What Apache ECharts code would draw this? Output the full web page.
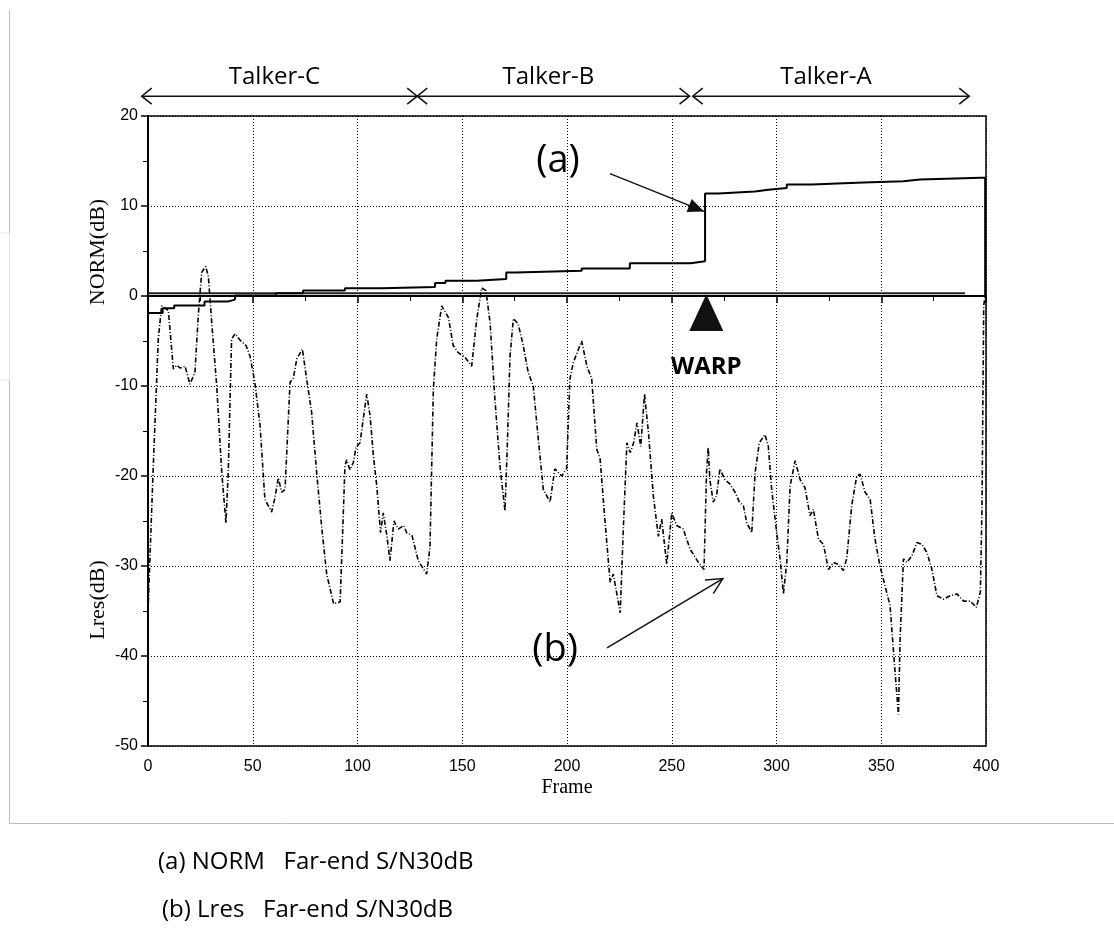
<!DOCTYPE html>
<html><head><meta charset="utf-8">
<script src="https://cdn.jsdelivr.net/npm/echarts@6/dist/echarts.min.js"></script>
<style>html,body{margin:0;padding:0;background:#fff}#c{width:1114px;height:932px}</style>
</head><body><div id="c"></div>
<script>
// ---- data ----
const normFrames = [0, 7, 12.5, 27, 38.5, 41.5, 61, 74, 94, 111.5, 137, 142, 157, 171, 175.5, 207, 230, 259, 265.9, 272.2, 289.7, 296.1, 304.9, 316.8, 341.5, 360.5, 368.5, 397.6, 399.6];
const normValues = [-1.9, -1.35, -1.05, -0.6, -0.4, 0.05, 0.3, 0.6, 0.85, 1.0, 1.45, 1.7, 1.9, 2.6, 2.8, 3.05, 3.65, 3.85, 11.4, 11.6, 11.8, 12.0, 12.4, 12.6, 12.75, 12.95, 13.15, 13.15, 0];
const refFrames = [0, 390];
const refValues = [0.3, 0.3];
const lresFrames = [0, 2.4, 4.9, 6.5, 7.3, 9.7, 12.1, 13.7, 15.3, 17.7, 20, 22.4, 24, 25.6, 27.5, 28.8, 30.4, 32.8, 35.2, 37.2, 38.3, 39.9, 41.5, 43.9, 46.8, 48.7, 51, 53.5, 55.8, 59, 60.6, 62.2, 63.8, 65.4, 67.8, 69.4, 71, 73.7, 75.7, 78.1, 80.5, 83, 85.3, 88.6, 91.7, 92.8, 94, 94.8, 96.4, 98, 99.3, 101.2, 104.4, 106, 107.6, 109.2, 111, 112.3, 114, 115.5, 117.4, 119.5, 122, 123.5, 126, 129, 133, 134.6, 136.2, 137.8, 140.2, 143.4, 145.7, 148.1, 151.3, 154.5, 156.9, 159.3, 161.3, 163.3, 165.6, 168, 170.4, 171.5, 172.8, 174.4, 176.7, 179.1, 181.5, 183.9, 186.3, 188.7, 191.9, 194.2, 197.5, 199.8, 201.4, 203, 207, 209.5, 211.8, 214.2, 215.8, 218.2, 220.6, 222.1, 225.4, 227, 228.6, 230.2, 231.8, 233.4, 235.2, 237, 238.9, 241.2, 243.6, 245.2, 247.6, 250, 252.4, 255.5, 258.7, 262.7, 265.4, 266.6, 267.4, 268.2, 269.8, 271.4, 273, 275.4, 277.8, 280.2, 282.3, 284.2, 285.8, 288.2, 289.8, 291.8, 294.5, 296.1, 297.7, 300.1, 301.7, 303.3, 304.9, 306.5, 308.9, 311.3, 313.6, 316, 317.6, 320, 322.4, 324.8, 327.2, 329.5, 331.9, 333.5, 335.9, 338.3, 339.9, 342.3, 344.7, 347, 349.4, 351.8, 354.2, 356.6, 358.2, 359, 360.6, 362.2, 364.6, 367, 369.4, 371.8, 374.2, 376.6, 379.7, 382.9, 386.1, 389.3, 392.5, 395.4, 397.3, 398.1, 398.9, 399.7];
const lresValues = [-35.2, -19.6, -4.8, -1.1, -0.9, -1.6, -8.1, -7.7, -8.0, -7.8, -9.8, -8.5, -2.2, 2.6, 3.3, 2.2, -2.9, -10.0, -19.6, -25.2, -19.6, -4.8, -4.2, -4.9, -5.5, -6.7, -9.6, -14.4, -22.6, -24.0, -22.4, -20.2, -21.8, -21.5, -9.6, -9.1, -7.0, -5.9, -9.2, -12.9, -19.6, -25.9, -30.9, -34.2, -34.0, -27.0, -18.9, -18.2, -19.3, -18.5, -16.8, -16.3, -10.9, -13.3, -17.8, -21.1, -26.3, -24.1, -26.6, -29.4, -25.0, -25.9, -25.5, -26.3, -26.6, -29.4, -30.9, -27.9, -10.4, -4.8, -1.1, -2.4, -5.5, -6.3, -6.8, -7.8, -2.6, 0.9, 0.6, -3.0, -11.5, -18.9, -23.9, -16.7, -6.7, -2.5, -3.1, -5.5, -8.5, -10.0, -15.9, -21.5, -22.9, -19.2, -20.0, -19.2, -9.2, -7.4, -5.0, -7.8, -9.2, -17.0, -18.1, -25.2, -31.8, -30.9, -35.2, -25.2, -16.3, -17.4, -16.3, -14.1, -16.7, -10.9, -15.2, -22.2, -26.7, -24.8, -29.8, -24.1, -25.5, -25.9, -28.1, -29.6, -30.4, -19.6, -16.8, -20.4, -22.9, -22.2, -19.2, -20.4, -20.9, -21.8, -22.9, -23.3, -25.2, -26.3, -19.6, -16.3, -15.4, -16.7, -21.5, -26.3, -29.2, -33.1, -29.6, -21.1, -18.3, -20.4, -21.3, -24.4, -23.7, -27.0, -27.6, -30.4, -29.6, -29.8, -30.5, -29.2, -23.3, -20.0, -19.8, -21.8, -22.6, -27.0, -30.0, -32.2, -34.4, -41.8, -46.5, -38.1, -29.2, -29.6, -28.9, -27.4, -27.6, -28.5, -30.4, -33.3, -33.7, -33.3, -33.1, -33.9, -33.9, -34.6, -32.9, -23.3, -1.1, 0.2];
const talkerNames = ['Talker-C', 'Talker-B', 'Talker-A'];
const talkerStart = [-3, 128.5, 260];
const talkerEnd = [128.5, 258.5, 392];
const warpFrame = 266.5;
const captions = ['(a) NORM   Far-end S/N30dB', '(b) Lres   Far-end S/N30dB'];
const yTitles = ['NORM(dB)', 'Lres(dB)'];
const xTitle = 'Frame';

const zip = (a, b) => a.map((v, i) => [v, b[i]]);

const chart = echarts.init(document.getElementById('c'), null, { renderer: 'canvas' });
const tickFont = 'Liberation Sans';
chart.setOption({
  animation: false,
  backgroundColor: '#fff',
  grid: { left: 148, right: 128, top: 116, bottom: 186, show: true, borderColor: '#000', borderWidth: 1.5, backgroundColor: 'transparent' },
  xAxis: {
    type: 'value', min: 0, max: 400, interval: 50,
    axisLine: { show: true, lineStyle: { color: '#000', width: 2 } },
    axisTick: { show: true, length: 7, lineStyle: { color: '#000', width: 1.5 } },
    minorTick: { show: true, splitNumber: 2, length: 5, lineStyle: { color: '#000', width: 1 } },
    axisLabel: { color: '#000', fontSize: 16, fontFamily: tickFont, margin: 13 },
    splitLine: { show: true, lineStyle: { color: '#000', type: [1, 2], width: 1 } }
  },
  yAxis: {
    type: 'value', min: -50, max: 20, interval: 10,
    axisLine: { show: true, onZero: false, lineStyle: { color: '#000', width: 2 } },
    axisTick: { show: true, length: 7, lineStyle: { color: '#000', width: 1.5 } },
    minorTick: { show: true, splitNumber: 2, length: 5, lineStyle: { color: '#000', width: 1 } },
    axisLabel: { color: '#000', fontSize: 16, fontFamily: tickFont, margin: 10 },
    splitLine: { show: true, lineStyle: { color: '#000', type: [1, 2], width: 1 } }
  },
  series: [
    { type: 'line', data: zip(refFrames, refValues), symbol: 'none', lineStyle: { color: '#222', width: 2 }, z: 3 },
    { type: 'line', data: zip(normFrames, normValues), step: 'end', symbol: 'none', lineStyle: { color: '#000', width: 2 }, z: 4 },
    { type: 'line', data: zip(lresFrames, lresValues), symbol: 'none', lineStyle: { color: '#000', width: 1.6, type: [5, 2, 1, 2] }, z: 5 }
  ]
});

const P = (x, y) => chart.convertToPixel({ gridIndex: 0 }, [x, y]);
function head(tip, from, len, half, filled) {
  const dx = tip[0] - from[0], dy = tip[1] - from[1];
  const L = Math.hypot(dx, dy), ux = dx / L, uy = dy / L;
  const bx = tip[0] - ux * len, by = tip[1] - uy * len;
  const p1 = [bx - uy * half, by + ux * half], p2 = [bx + uy * half, by - ux * half];
  return filled
    ? { type: 'polygon', shape: { points: [tip, p1, p2] }, style: { fill: '#111' }, z: 20 }
    : { type: 'polyline', shape: { points: [p1, tip, p2] }, style: { stroke: '#111', lineWidth: 1.5, fill: null }, z: 20 };
}
const g = [];
// page frame lines
g.push({ type: 'line', shape: { x1: 9.5, y1: 10, x2: 9.5, y2: 823.5 }, style: { stroke: '#bbb', lineWidth: 1 } });
g.push({ type: 'line', shape: { x1: 9.5, y1: 823.5, x2: 1114, y2: 823.5 }, style: { stroke: '#bbb', lineWidth: 1 } });
g.push({ type: 'rect', shape: { x: -1, y: 233, width: 10.5, height: 147 }, style: { stroke: '#e4e4e4', fill: null, lineWidth: 1 } });
// talker arrows
const tY = P(0, 22.2)[1];
talkerNames.forEach((n, i) => {
  const a = P(talkerStart[i], 0)[0], b = P(talkerEnd[i], 0)[0];
  g.push({ type: 'line', shape: { x1: a, y1: tY, x2: b, y2: tY }, style: { stroke: '#111', lineWidth: 1.5 }, z: 20 });
  g.push(head([a, tY], [b, tY], 10, 8, false));
  g.push(head([b, tY], [a, tY], 10, 8, false));
  g.push({ type: 'text', x: (a + b) / 2 - 5, y: tY - 19, style: { text: n, font: '24px "Open Sans"', fill: '#000', align: 'center', verticalAlign: 'middle' }, z: 20 });
});
// (a) annotation
const aFrom = P(220.5, 13.6), aTip = P(265.4, 9.4);
g.push({ type: 'line', shape: { x1: aFrom[0], y1: aFrom[1], x2: aTip[0], y2: aTip[1] }, style: { stroke: '#111', lineWidth: 1.5 }, z: 20 });
g.push(head(aTip, aFrom, 16, 7, true));
const aT = P(195.7, 15.0);
g.push({ type: 'text', x: aT[0], y: aT[1], style: { text: '(a)', font: '38px "Open Sans"', fill: '#000', align: 'center', verticalAlign: 'middle' }, z: 20 });
// (b) annotation
const bFrom = P(219.1, -39.1), bTip = P(274.4, -31.4);
g.push({ type: 'line', shape: { x1: bFrom[0], y1: bFrom[1], x2: bTip[0], y2: bTip[1] }, style: { stroke: '#111', lineWidth: 1.5 }, z: 20 });
g.push(head(bTip, bFrom, 16, 8, false));
const bT = P(194.3, -39.4);
g.push({ type: 'text', x: bT[0], y: bT[1], style: { text: '(b)', font: '38px "Open Sans"', fill: '#000', align: 'center', verticalAlign: 'middle' }, z: 20 });
// WARP triangle
const apex = P(warpFrame, 0.2), base = P(warpFrame, -3.9);
g.push({ type: 'polygon', shape: { points: [apex, [apex[0] - 17, base[1]], [apex[0] + 17, base[1]]] }, style: { fill: '#111' }, z: 20 });
const wT = P(warpFrame, -7.9);
g.push({ type: 'text', x: wT[0], y: wT[1], style: { text: 'WARP', font: 'bold 24px "Open Sans"', fill: '#000', align: 'center', verticalAlign: 'middle' }, z: 20 });
// axis titles
g.push({ type: 'text', x: 98, y: 252, rotation: Math.PI / 2, style: { text: yTitles[0], font: '22px "Liberation Serif"', fill: '#000', align: 'center', verticalAlign: 'middle' } });
g.push({ type: 'text', x: 98, y: 600, rotation: Math.PI / 2, style: { text: yTitles[1], font: '22px "Liberation Serif"', fill: '#000', align: 'center', verticalAlign: 'middle' } });
g.push({ type: 'text', x: 567, y: 788, style: { text: xTitle, font: '20px "Liberation Serif"', fill: '#000', align: 'center', verticalAlign: 'middle' } });
// captions
g.push({ type: 'text', x: 158, y: 862, style: { text: captions[0], font: '24px "Open Sans"', fill: '#000', align: 'left', verticalAlign: 'middle' } });
g.push({ type: 'text', x: 162, y: 910, style: { text: captions[1], font: '24px "Open Sans"', fill: '#000', align: 'left', verticalAlign: 'middle' } });
chart.setOption({ graphic: g });
</script></body></html>
